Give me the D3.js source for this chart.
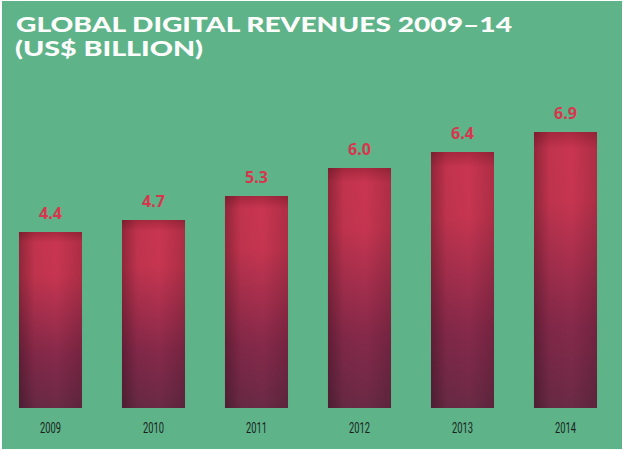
<!DOCTYPE html>
<html>
<head>
<meta charset="utf-8">
<script src="https://cdn.jsdelivr.net/npm/d3@7"></script>
<style>
  body { margin: 0; background: #fff; }
  svg { display: block; }
</style>
</head>
<body>
<svg id="chart" width="623" height="450"></svg>
<script>
// values
const years = ["2009", "2010", "2011", "2012", "2013", "2014"];
const revenues = [4.4, 4.7, 5.3, 6.0, 6.4, 6.9];
const titleLines = ["GLOBAL DIGITAL REVENUES 2009\u201314", "(US$ BILLION)"];

let svg = d3.select("#chart");
let width = +svg.attr("width");
let height = +svg.attr("height");

// green panel with a thin white edge at top/left
svg.append("rect")
    .attr("x", 2).attr("y", 1)
    .attr("width", width - 3).attr("height", height - 2)
    .attr("fill", "#5eb389");

let defs = svg.append("defs");

// vertical red -> plum fill
let vGrad = defs.append("linearGradient")
    .attr("id", "barFill")
    .attr("x1", 0).attr("y1", 0).attr("x2", 0).attr("y2", 1);
vGrad.append("stop").attr("offset", "0%").attr("stop-color", "#a8293f");
vGrad.append("stop").attr("offset", "6%").attr("stop-color", "#c93550");
vGrad.append("stop").attr("offset", "25%").attr("stop-color", "#c63550");
vGrad.append("stop").attr("offset", "70%").attr("stop-color", "#86294a");
vGrad.append("stop").attr("offset", "100%").attr("stop-color", "#6a2a45");

// darker sides
let hGrad = defs.append("linearGradient")
    .attr("id", "barShade")
    .attr("x1", 0).attr("y1", 0).attr("x2", 1).attr("y2", 0);
hGrad.append("stop").attr("offset", "0%").attr("stop-color", "#000").attr("stop-opacity", 0.28);
hGrad.append("stop").attr("offset", "25%").attr("stop-color", "#000").attr("stop-opacity", 0.04);
hGrad.append("stop").attr("offset", "60%").attr("stop-color", "#000").attr("stop-opacity", 0);
hGrad.append("stop").attr("offset", "100%").attr("stop-color", "#000").attr("stop-opacity", 0.14);

// scales: 40px per billion, baseline at y=408
let x = d3.scaleBand()
    .domain(years)
    .range([-1, 617])
    .paddingInner(0.388)
    .paddingOuter(0.194);

let y = d3.scaleLinear()
    .domain([0, 7])
    .range([408, 128]);

let data = years.map((yr, i) => ({year: yr, value: revenues[i]}));

let bars = svg.append("g").selectAll("g")
    .data(data)
    .enter().append("g");

bars.append("rect")
    .attr("x", d => x(d.year))
    .attr("y", d => y(d.value))
    .attr("width", x.bandwidth())
    .attr("height", d => y(0) - y(d.value))
    .attr("fill", "url(#barFill)");

bars.append("rect")
    .attr("x", d => x(d.year))
    .attr("y", d => y(d.value))
    .attr("width", x.bandwidth())
    .attr("height", d => y(0) - y(d.value))
    .attr("fill", "url(#barShade)");

// value labels above the bars
bars.append("text")
    .attr("x", d => x(d.year) + x.bandwidth() / 2)
    .attr("y", d => y(d.value) - 13)
    .attr("text-anchor", "middle")
    .attr("font-family", "'Open Sans', 'DejaVu Sans', sans-serif")
    .attr("font-weight", 700)
    .attr("font-size", 16)
    .attr("fill", "#d9364d")
    .text(d => d3.format(".1f")(d.value));

// year labels along the bottom (condensed)
let xAxis = svg.append("g")
    .attr("transform", `translate(0, ${y(0)})`)
    .call(d3.axisBottom(x).tickSize(0).tickPadding(15));
xAxis.select(".domain").remove();
xAxis.selectAll("text")
    .attr("font-family", "Roboto, sans-serif")
    .attr("font-weight", 400)
    .attr("font-size", 14)
    .attr("textLength", 21)
    .attr("lengthAdjust", "spacingAndGlyphs")
    .attr("fill", "#1a1f1c");

// title, two lines
let title = svg.append("g")
    .attr("font-family", "Lato, 'Open Sans', sans-serif")
    .attr("font-weight", 900)
    .attr("font-size", 20)
    .attr("fill", "#fff");
title.append("text")
    .attr("x", 16).attr("y", 32)
    .attr("textLength", 496)
    .attr("lengthAdjust", "spacingAndGlyphs")
    .text(titleLines[0]);
title.append("text")
    .attr("x", 15).attr("y", 56)
    .attr("textLength", 188)
    .attr("lengthAdjust", "spacingAndGlyphs")
    .text(titleLines[1]);
</script>
</body>
</html>
